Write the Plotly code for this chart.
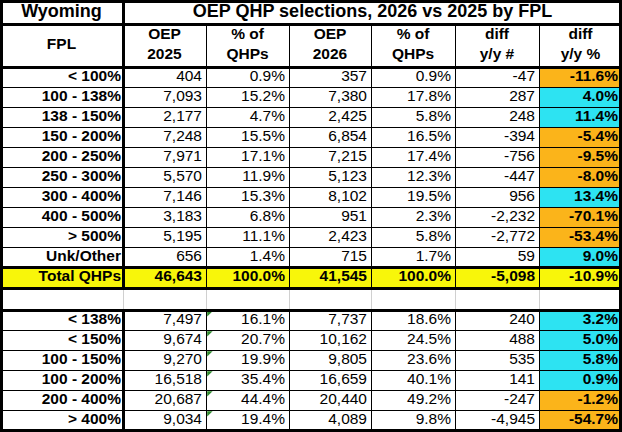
import numpy as np
import plotly.graph_objects as go

# ---- data read from the sheet ----
state = "Wyoming"
title = "OEP QHP selections, 2026 vs 2025 by FPL"
col_heads = ["FPL", "OEP<br>2025", "% of<br>QHPs", "OEP<br>2026", "% of<br>QHPs", "diff<br>y/y #", "diff<br>y/y %"]

fpl = ["< 100%", "100 - 138%", "138 - 150%", "150 - 200%", "200 - 250%",
       "250 - 300%", "300 - 400%", "400 - 500%", "> 500%", "Unk/Other"]
oep2025 = [404, 7093, 2177, 7248, 7971, 5570, 7146, 3183, 5195, 656]
pct2025 = [0.9, 15.2, 4.7, 15.5, 17.1, 11.9, 15.3, 6.8, 11.1, 1.4]
oep2026 = [357, 7380, 2425, 6854, 7215, 5123, 8102, 951, 2423, 715]
pct2026 = [0.9, 17.8, 5.8, 16.5, 17.4, 12.3, 19.5, 2.3, 5.8, 1.7]
diff = [-47, 287, 248, -394, -756, -447, 956, -2232, -2772, 59]
diff_pct = [-11.6, 4.0, 11.4, -5.4, -9.5, -8.0, 13.4, -70.1, -53.4, 9.0]

total_label = "Total QHPs"
total = [46643, 100.0, 41545, 100.0, -5098, -10.9]

fpl_b = ["< 138%", "< 150%", "100 - 150%", "100 - 200%", "200 - 400%", "> 400%"]
oep2025_b = [7497, 9674, 9270, 16518, 20687, 9034]
pct2025_b = [16.1, 20.7, 19.9, 35.4, 44.4, 19.4]
oep2026_b = [7737, 10162, 9805, 16659, 20440, 4089]
pct2026_b = [18.6, 24.5, 23.6, 40.1, 49.2, 9.8]
diff_b = [240, 488, 535, 141, -247, -4945]
diff_pct_b = [3.2, 5.0, 5.8, 0.9, -1.2, -54.7]

# ---- sheet geometry / style (pixels) ----
W, H = 622, 432
col_w = [123, 83, 83, 82, 84, 84, 83]
title_h, head_h, row_h, total_h, blank_h = 24, 43, 20, 21, 22
FONT = "Liberation Sans"
FS = 15.5
WHITE, ORANGE, CYAN, YELLOW = "#FFFFFF", "#FBB41A", "#2DE3F2", "#F8F60A"
GRID_GREY = "#D0D0D0"

row_heights = [title_h, head_h] + [row_h] * len(fpl) + [total_h, blank_h] + [row_h] * len(fpl_b)
x_edges = np.concatenate([[0], np.cumsum(col_w)])
y_edges = np.concatenate([[0], np.cumsum(row_heights)])
r_data = 2                      # first FPL row
r_total = r_data + len(fpl)
r_blank = r_total + 1
r_b = r_blank + 1               # first grouped row


def num(v):
    return f"{v:,}"


def pct(v):
    return f"{v:.1f}%"


def b(s):
    return f"<b>{s}</b>"


def body_rows(labels, a, pa, c, pc, d, dp):
    return [[b(labels[i]), num(a[i]), pct(pa[i]), num(c[i]), pct(pc[i]), num(d[i]), b(pct(dp[i]))]
            for i in range(len(labels))]


# colour codes per cell: 0 white, 1 orange, 2 cyan, 3 yellow
z = np.zeros((len(row_heights), len(col_w)))
for i, v in enumerate(diff_pct):
    z[r_data + i, 6] = 1 if v < 0 else 2
for i, v in enumerate(diff_pct_b):
    z[r_b + i, 6] = 1 if v < 0 else 2
z[r_total, :] = 3
scale = [[0, WHITE], [1 / 6, WHITE], [1 / 6, ORANGE], [0.5, ORANGE],
         [0.5, CYAN], [5 / 6, CYAN], [5 / 6, YELLOW], [1, YELLOW]]

fig = go.Figure()
fig.add_trace(go.Heatmap(x=x_edges, y=y_edges, z=z, zmin=0, zmax=3, colorscale=scale,
                         showscale=False, hoverinfo="skip"))

# text cells
ymid = (y_edges[:-1] + y_edges[1:]) / 2
xmid = (x_edges[:-1] + x_edges[1:]) / 2
cx, cy, ct, cs = [], [], [], []      # centred text
rx, ry, rt = [], [], []              # right-aligned text

cx += [xmid[0], (x_edges[1] + x_edges[-1]) / 2]
cy += [ymid[0], ymid[0]]
ct += [b(state), b(title)]
cs += [18, 18]
for j, h in enumerate(col_heads):
    cx.append(xmid[j]); cy.append(ymid[1]); ct.append(b(h)); cs.append(FS)

rows = body_rows(fpl, oep2025, pct2025, oep2026, pct2026, diff, diff_pct)
rows_b = body_rows(fpl_b, oep2025_b, pct2025_b, oep2026_b, pct2026_b, diff_b, diff_pct_b)
total_row = [b(total_label), b(num(total[0])), b(pct(total[1])), b(num(total[2])),
             b(pct(total[3])), b(num(total[4])), b(pct(total[5]))]
all_rows = [(r_data + i, r) for i, r in enumerate(rows)] + [(r_total, total_row)] + \
    [(r_b + i, r) for i, r in enumerate(rows_b)]
for r, vals in all_rows:
    for j, t in enumerate(vals):
        pad = 2 if j == 0 else 4
        rx.append(x_edges[j + 1] - pad); ry.append(ymid[r]); rt.append(t)

fig.add_trace(go.Scatter(x=cx, y=cy, text=ct, mode="text", textposition="middle center",
                         textfont=dict(family=FONT, size=cs, color="black"), hoverinfo="skip"))
fig.add_trace(go.Scatter(x=rx, y=ry, text=rt, mode="text", textposition="middle left",
                         textfont=dict(family=FONT, size=FS, color="black"), hoverinfo="skip"))

# little green error-flag corners in the grouped section
fig.add_trace(go.Scatter(x=[x_edges[2] + 3] * len(fpl_b),
                         y=[y_edges[r_b + i] + 3 for i in range(len(fpl_b))],
                         mode="markers", marker=dict(symbol="triangle-nw", size=6, color="#2E8B2E", line_width=0),
                         hoverinfo="skip"))


# grid lines
def hline(y, x0, x1, color="black", width=1):
    fig.add_shape(type="line", x0=x0, x1=x1, y0=y, y1=y, line=dict(color=color, width=width), layer="above")


def vline(x, y0, y1, color="black", width=1):
    fig.add_shape(type="line", x0=x, x1=x, y0=y0, y1=y1, line=dict(color=color, width=width), layer="above")


for r in list(range(r_data + 1, r_total)) + list(range(r_b + 1, len(row_heights))):
    hline(y_edges[r] + 0.5, 0, W)
y_top_body, y_blank0, y_blank1, y_end = y_edges[1], y_edges[r_blank], y_edges[r_b], y_edges[-1]
for xe in x_edges[2:-1]:
    vline(xe + 0.5, y_top_body, y_blank0)
    vline(xe + 0.5, y_blank0, y_blank1, color=GRID_GREY)
    vline(xe + 0.5, y_blank1, y_end)
vline(x_edges[1] + 0.5, y_blank0, y_blank1, color=GRID_GREY)
vline(x_edges[1] + 0.5, 0, y_blank0, width=3)
vline(x_edges[1] + 0.5, y_blank1, y_end, width=3)
for r in [1, 2, r_total, r_blank, r_b]:
    hline(y_edges[r] + 0.5, 0, W, width=3)
fig.add_shape(type="rect", x0=1.5, x1=W - 1.5, y0=1.5, y1=y_end + 0.5,
              line=dict(color="black", width=3), layer="above")

fig.update_xaxes(range=[0, W], visible=False, fixedrange=True)
fig.update_yaxes(range=[H, 0], visible=False, fixedrange=True)
fig.update_layout(width=W, height=H, margin=dict(l=0, r=0, t=0, b=0, pad=0),
                  paper_bgcolor="white", plot_bgcolor="white", showlegend=False)

fig.write_html("out.html", config={"displayModeBar": False},
               post_script="document.body.style.margin='0';")
